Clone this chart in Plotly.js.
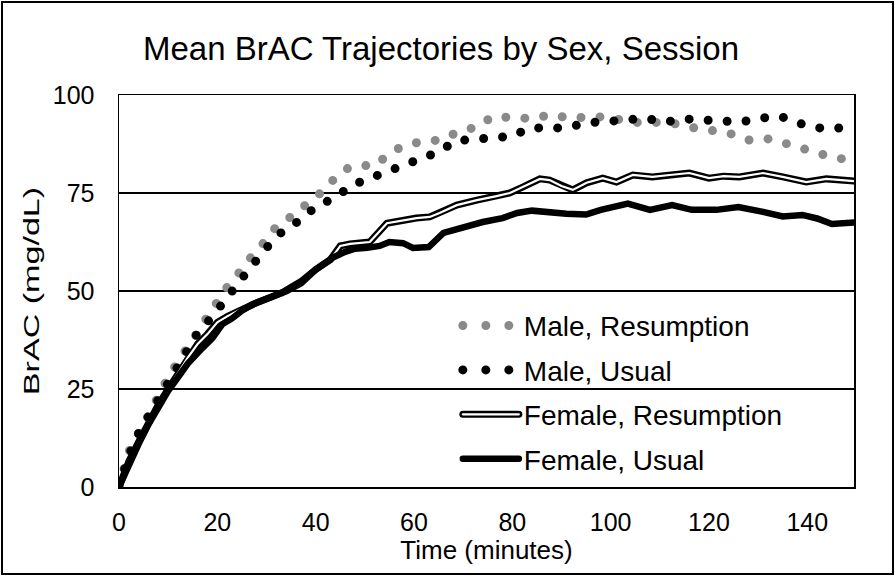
<!DOCTYPE html>
<html>
<head>
<meta charset="utf-8">
<script src="https://cdn.plot.ly/plotly-3.0.1.min.js"></script>
<style>
  html, body { margin: 0; padding: 0; background: #fff; }
  #chart { width: 895px; height: 576px; }
  .scatterlayer .trace path.js-line, .legend .traces path.js-line { stroke-linecap: round; }
</style>
</head>
<body>
<div id="chart"></div>
<script>
// ---- Data ----
const timeMaleResumption = [0,2,4,6,8,10,12,14,16,18,20,22,24,26,28,30,32,34,36,38,40,42,44,46,48,50,52,54,57,61,65,69,73,76,80,84,88,92,96,100,104,108,112,116,120,124,128,132,136,140,144,148,150];
const maleResumption     = [0,9,13.5,18.5,24,28,32,35.5,39.5,43.5,47.5,51,54,57.5,60.5,63,66.5,68,70,72.5,74.5,76,79,81,82,82,82,84,86.5,88,88.5,90.5,92,94.5,94,94,95,94,94.5,94.3,93,93,93,91.8,91,90.3,88.5,88.8,87.5,85.7,84.5,83.5,83];

const timeMaleUsual = [0,2,4,6,8,10,12,14,16,19,21,23.5,26,28.5,31,34,37.5,40,44,47,50.5,54,57.5,61.5,65,68.5,72.5,76,80,83.5,87.5,91,95,99,103,107,111,115,119,122.5,126.5,130.5,134.5,138,142,146,150];
const maleUsual     = [0,8,13.8,18,23,27,31,35.5,39.3,43.5,47,51,54.8,58.7,62.5,66.1,68.4,71.7,73.7,76.8,78.6,80.1,81.9,83.9,85.5,88.3,88.8,89,89.5,91.6,91.8,91.6,92.9,93.1,93.6,94.1,93.1,93.9,93.6,93.4,93.1,94.1,94.6,92.9,91.6,91.6,91.5];

const timeFemaleResumption = [0,2,4,6,8,10,12,14,16,18,20,22,25,28,31,34,37,40,43,45,47,49,51,54.5,57.8,60.5,63.2,65.2,68.7,72.8,76.8,79.5,82.1,85.6,87.6,90,92.3,95.1,98.4,101.2,104.5,108.5,112,116,120,123,126.2,131,135,139.8,143.9,148,150];
const femaleResumption     = [0,6.5,11.5,16.5,21,25,29,33,36.5,39,42,43.5,45.5,47,48.5,50,52,55.5,58,61.5,62,62.3,62.5,67.3,68.1,68.6,68.9,69.9,71.9,73.2,74.2,75,76.5,78.6,78.3,76.8,75.8,77.6,78.8,77.8,79.6,79.1,79.6,80.1,78.8,79.3,79.1,80.1,79.1,77.8,78.6,78.1,78];

const timeFemaleUsual = [0,2,4,6,8,10,12,14,17,19,21,23,25,27,29,31,33,35,37,39,41,43.5,46,48,50.5,53,55,57.8,59.8,63,66,70,74,78,81,84,87.5,91,95,98,103.5,108,112.5,116.5,121.5,126,131,135,139,142,145,150];
const femaleUsual     = [0,6,11,16,20.5,24.5,28,31.5,35.5,38,41.5,43,45,46.5,47.5,48.5,49.5,51,52.5,54.5,56.5,58.5,60,60.8,61,61.5,62.5,62.2,61,61.2,64.8,66.3,67.6,68.6,69.9,70.5,70,69.7,69.5,70.7,72.3,70.7,71.9,70.7,70.7,71.4,70.2,69,69.4,68.5,67.1,67.5];

const seriesNames = ["Male, Resumption", "Male, Usual", "Female, Resumption", "Female, Usual"];
const yTickVals = [0, 25, 50, 75, 100];
const xTickVals = [0, 20, 40, 60, 80, 100, 120, 140];

const FONT = 'Arial, "Liberation Sans", sans-serif';

const traces = [
  { x: timeMaleResumption, y: maleResumption, name: seriesNames[0], legendgroup: 'g1',
    mode: 'lines', line: { color: '#8a8a8a', width: 9, dash: '0px,19px' }, showlegend: true },
  { x: timeMaleUsual, y: maleUsual, name: seriesNames[1], legendgroup: 'g2',
    mode: 'lines', line: { color: '#000000', width: 9, dash: '0px,19px' }, showlegend: true },
  { x: timeFemaleResumption, y: femaleResumption, name: seriesNames[2] + ' outline', legendgroup: 'g3',
    mode: 'lines', line: { color: '#000000', width: 7 }, showlegend: false },
  { x: timeFemaleResumption, y: femaleResumption, name: seriesNames[2], legendgroup: 'g3',
    mode: 'lines', line: { color: '#ffffff', width: 2.2 }, showlegend: true },
  { x: timeFemaleUsual, y: femaleUsual, name: seriesNames[3], legendgroup: 'g4',
    mode: 'lines', line: { color: '#000000', width: 6.5 }, showlegend: true }
];

const L = 119, R = 41, T = 95, B = 89;
const pw = 895 - L - R, ph = 576 - T - B;

const layout = {
  width: 895, height: 576,
  margin: { l: L, r: R, t: T, b: B, pad: 0 },
  paper_bgcolor: '#ffffff', plot_bgcolor: '#ffffff',
  font: { family: FONT, color: '#000000', size: 25 },
  title: { text: 'Mean BrAC Trajectories by Sex, Session', font: { family: FONT, size: 33, color: '#000' },
           x: 441 / 895, xanchor: 'center', y: 1 - 48 / 576, yanchor: 'middle', xref: 'container', yref: 'container' },
  xaxis: {
    range: [0, 149.5], tickvals: xTickVals, ticktext: xTickVals.map(String),
    showgrid: false, zeroline: false, showline: true, mirror: true, linecolor: '#000', linewidth: 1.5,
    ticks: '', tickfont: { family: FONT, size: 25 }, ticklabelstandoff: 12,
    title: { text: 'Time (minutes)', font: { family: FONT, size: 26 }, standoff: 6 },
    fixedrange: true
  },
  yaxis: {
    range: [0, 100], tickvals: yTickVals, ticktext: yTickVals.map(String),
    showgrid: true, gridcolor: '#000', gridwidth: 1.5, zeroline: false,
    showline: true, mirror: true, linecolor: '#000', linewidth: 1.5,
    ticks: '', tickfont: { family: FONT, size: 25 }, ticklabelstandoff: 18,
    title: { text: 'BrAC (mg/dL)', font: { family: FONT, size: 22 }, standoff: 7 },
    fixedrange: true
  },
  showlegend: true,
  legend: {
    x: 0.461, y: 0.475, xanchor: 'left', yanchor: 'top',
    bgcolor: 'rgba(255,255,255,0)', borderwidth: 0,
    font: { family: FONT, size: 28, color: '#000' },
    itemwidth: 56, tracegroupgap: 5, traceorder: 'grouped'
  },
  shapes: [
    { type: 'rect', xref: 'paper', yref: 'paper',
      x0: (2 - L) / pw, x1: (893 - L) / pw, y0: -(574 - T - ph) / ph, y1: (T - 2 + ph) / ph,
      line: { color: '#000', width: 2 }, fillcolor: 'rgba(0,0,0,0)', layer: 'above' }
  ]
};

function fixDecor(gd) {
  const items = gd.querySelectorAll('.legend .traces');
  items.forEach(function (it) {
    const txt = it.querySelector('.legendtext');
    if (!txt) return;
    const p = it.querySelector('path.js-line');
    if (!p) return;
    const name = txt.textContent;
    if (name === seriesNames[0] || name === seriesNames[1]) {
      // three legend dots, as in the reference
      p.style.strokeDasharray = '0px,23px';
    }
    if (name === seriesNames[2] && !p.parentNode.querySelector('.outline-clone')) {
      // black outline behind the white core line
      const c = p.cloneNode(true);
      c.classList.add('outline-clone');
      c.style.stroke = '#000';
      c.style.strokeWidth = '7px';
      p.parentNode.insertBefore(c, p);
    }
  });
  // the reference's y-axis title is stretched along its length
  const yt = gd.querySelector('.ytitle');
  if (yt && !yt.dataset.stretched) {
    const cx = parseFloat(yt.getAttribute('x')), cy = parseFloat(yt.getAttribute('y'));
    const tr = yt.getAttribute('transform') || '';
    yt.setAttribute('transform', tr + ' translate(' + cx + ',' + cy + ') scale(1.55,1) translate(' + (-cx) + ',' + (-cy) + ')');
    yt.dataset.stretched = '1';
  }
}

Plotly.newPlot('chart', traces, layout, { staticPlot: true, displayModeBar: false }).then(function (gd) {
  fixDecor(gd);
  gd.on('plotly_afterplot', function () { fixDecor(gd); });
});
</script>
</body>
</html>
